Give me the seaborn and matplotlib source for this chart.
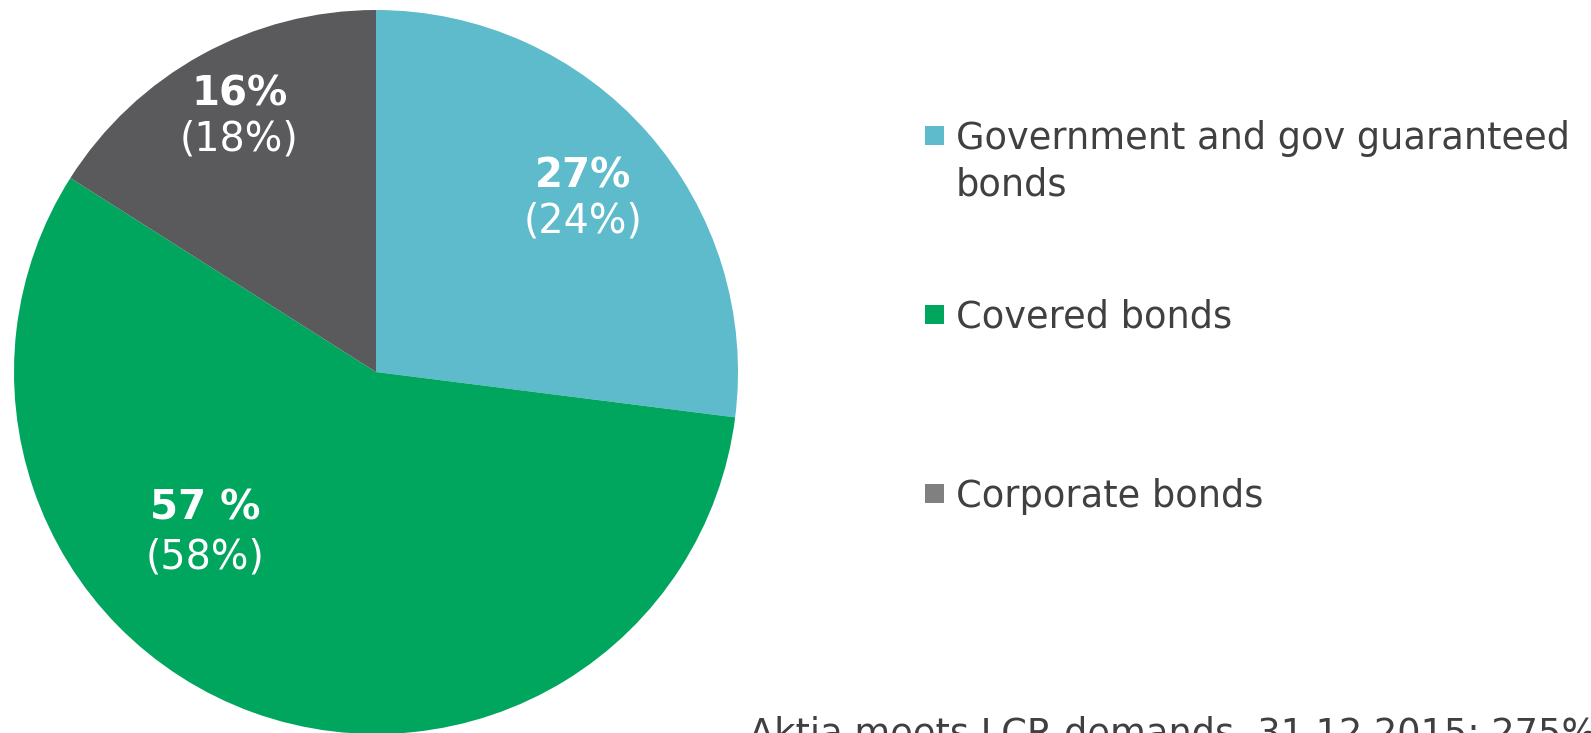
import matplotlib
matplotlib.use("Agg")
import matplotlib.pyplot as plt
from matplotlib.patches import Rectangle
import seaborn as sns

# Portfolio composition by bond type (current share, previous share in brackets)
categories = ["Government and gov guaranteed\nbonds", "Covered bonds", "Corporate bonds"]
shares = [27, 57, 16]
share_labels = ["27%", "57 %", "16%"]
prior_shares = [24, 58, 18]
footnote = "Aktia meets LCR demands, 31.12.2015: 275%"

wedge_colors = ["#5dbbcb", "#00a55e", "#5a5a5d"]
legend_colors = ["#5dbbcb", "#00a55e", "#808080"]
text_color = "#404040"

sns.set_theme(style="white")
plt.rcParams["font.family"] = ["DejaVu Sans"]

W, H = 1591, 733
fig = plt.figure(figsize=(W / 100, H / 100), dpi=100)
fig.patch.set_facecolor("white")


def fx(x):
    return x / W


def fy(y):
    return 1 - y / H


# pie: centre (376, 372) px, radius 362 px
cx, cy, r = 376, 372, 362
ax = fig.add_axes([fx(cx - r), fy(cy + r), 2 * r / W, 2 * r / H])
ax.pie(shares, colors=wedge_colors, startangle=90, counterclock=False,
       radius=1, wedgeprops=dict(linewidth=0, antialiased=True))
ax.set_xlim(-1, 1)
ax.set_ylim(-1, 1)
ax.set_aspect("equal")
ax.axis("off")

# in-slice labels (pixel anchors: centre x, baseline of bold line, baseline of bracket line)
label_pos = [(583, 187, 233), (205, 520, 568), (239.5, 106, 151)]
for lab, prev, (x, yb, yp) in zip(share_labels, prior_shares, label_pos):
    fig.text(fx(x), fy(yb), lab, ha="center", va="baseline", color="white",
             fontsize=29, fontweight="bold")
    fig.text(fx(x), fy(yp), f"({prev}%)", ha="center", va="baseline",
             color="white", fontsize=28.5)

# legend drawn as squares + text lines
legend_rows = [(126, 149), (305, 328), (484, 507)]
line_step = 46
for cat, col, (ytop, ybase) in zip(categories, legend_colors, legend_rows):
    fig.patches.append(Rectangle((fx(925), fy(ytop + 19)), 19 / W, 19 / H,
                                 transform=fig.transFigure, facecolor=col,
                                 edgecolor="none"))
    for i, line in enumerate(cat.split("\n")):
        fig.text(fx(956), fy(ybase + i * line_step), line, ha="left",
                 va="baseline", color=text_color, fontsize=26.5)

fig.text(fx(749), fy(745), footnote, ha="left", va="baseline",
         color=text_color, fontsize=26.5)

fig.savefig("out.png", dpi=100, facecolor="white")
